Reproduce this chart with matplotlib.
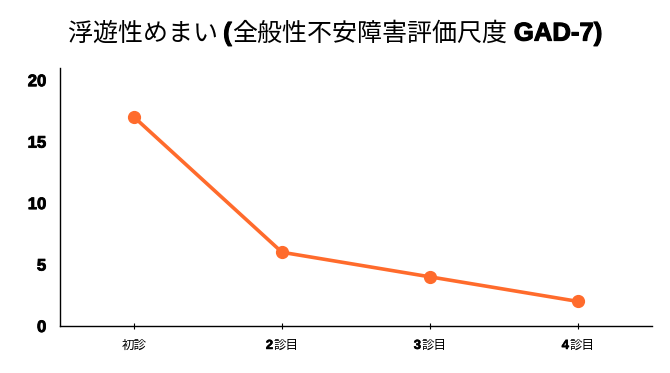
import matplotlib
matplotlib.use("Agg")
import matplotlib.pyplot as plt
import matplotlib.patheffects as pe
from matplotlib.offsetbox import TextArea, HPacker, AnnotationBbox

categories = ["初診", "2診目", "3診目", "4診目"]
values = [17, 6, 4, 2]
yticks = [0, 5, 10, 15, 20]
title_parts = [("浮遊性めまい ", False), ("(", True), ("全般性不安障害評価尺度", False), (" GAD-7)", True)]

color = "#FF6B2C"
cjk = "Noto Sans CJK JP"
lat = "Liberation Sans"
heavy = [pe.withStroke(linewidth=0.8, foreground="black")]

fig = plt.figure(figsize=(6.7, 3.73), dpi=100)
ax = fig.add_axes([0.0896, 0.126, 0.8834, 0.692])

x = list(range(len(categories)))
ax.plot(x, values, color=color, lw=2.6, marker="o", ms=8.5, solid_capstyle="round")
ax.set_xlim(-0.5, len(categories) - 0.5)
ax.set_ylim(0, 21)
ax.set_yticks(yticks)
labels = ax.set_yticklabels([str(v) for v in yticks], fontfamily=lat, fontweight="bold", fontsize=12)
for t in labels:
    t.set_path_effects([pe.withStroke(linewidth=0.6, foreground="black")])
ax.tick_params(axis="y", length=0, pad=10)
ax.tick_params(axis="x", length=4, direction="inout", width=0.8, pad=8)
ax.set_xticks(x)
ax.set_xticklabels([""] * len(categories))
for s in ["top", "right"]:
    ax.spines[s].set_visible(False)
for s in ["left", "bottom"]:
    ax.spines[s].set_linewidth(1.0)

def split_label(lbl):
    i = 0
    while i < len(lbl) and lbl[i].isdigit():
        i += 1
    return lbl[:i], lbl[i:]

for xi, lbl in zip(x, categories):
    num, rest = split_label(lbl)
    kids = []
    if num:
        kids.append(TextArea(num, textprops=dict(family=lat, weight="bold", size=9.5,
                                                 path_effects=[pe.withStroke(linewidth=0.4, foreground="black")])))
    kids.append(TextArea(rest, textprops=dict(family=cjk, size=9)))
    box = HPacker(children=kids, pad=0, sep=0, align="baseline")
    ab = AnnotationBbox(box, (xi, 0), xycoords=("data", "axes fraction"),
                        xybox=(0, -14), boxcoords="offset points", frameon=False,
                        box_alignment=(0.5, 0.5), annotation_clip=False)
    ax.add_artist(ab)

kids = []
for txt, bold in title_parts:
    if bold:
        kids.append(TextArea(txt, textprops=dict(family=lat, weight="bold", size=18.5,
                                                 path_effects=heavy)))
    else:
        kids.append(TextArea(txt, textprops=dict(family=cjk, size=18)))
tbox = HPacker(children=kids, pad=0, sep=0, align="baseline")
tab = AnnotationBbox(tbox, (0.5, 0.91), xycoords="figure fraction", frameon=False,
                     box_alignment=(0.5, 0.5))
fig.add_artist(tab)

fig.savefig("out.png", dpi=100)
